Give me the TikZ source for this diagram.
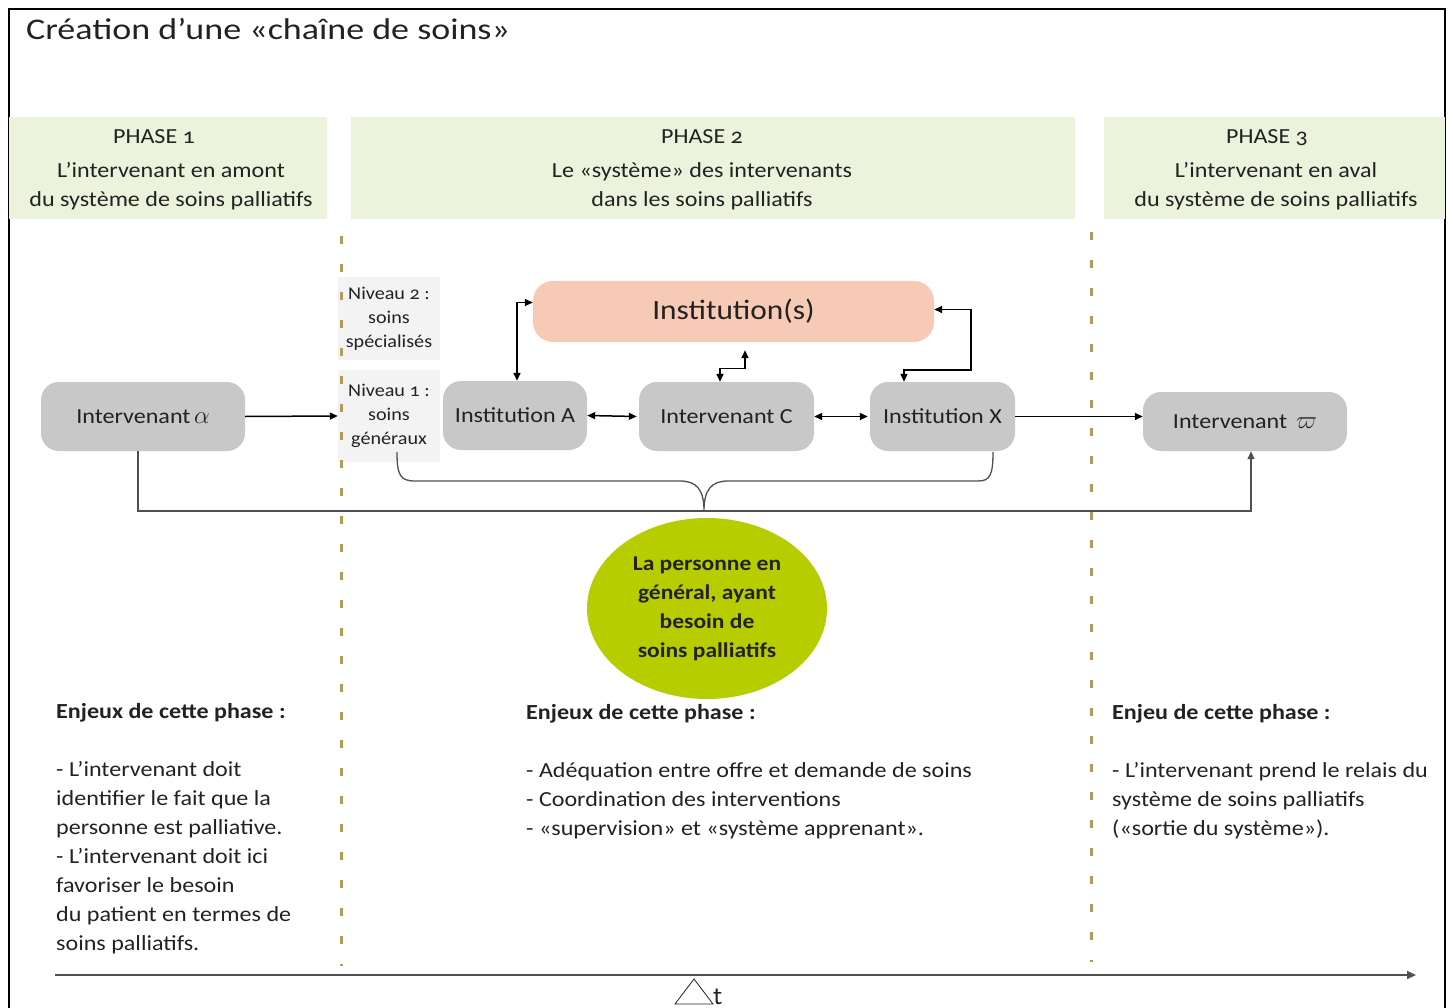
\documentclass[tikz,border=0pt]{standalone}
\usepackage{fontspec}
\setmainfont{Carlito}[Numbers=OldStyle, FakeStretch=1.12]
\newfontfamily\titlefont{Carlito}[Numbers=OldStyle, FakeStretch=1.2]
\usetikzlibrary{arrows.meta,calc,shapes.geometric}

\definecolor{phasebg}{HTML}{EBF3DC}
\definecolor{boxgrey}{HTML}{C8C8C8}
\definecolor{niveaubg}{HTML}{F3F3F3}
\definecolor{instpink}{HTML}{F7CAB6}
\definecolor{persgreen}{HTML}{B8CD00}
\definecolor{dashgold}{HTML}{B49B5C}
\definecolor{ink}{HTML}{222222}
\definecolor{wire}{HTML}{505050}

% greek letter of an actor, set a little larger than the text
\newcommand{\actorsym}[1]{{\fontsize{27}{29}\selectfont$#1$}}

\tikzset{
  txt/.style={text=ink, font=\fontsize{21.5}{29}\selectfont},
  phasebox/.style={fill=phasebg, inner sep=0pt},
  phasetext/.style={txt, align=center, inner sep=0pt},
  actor/.style={txt, fill=boxgrey, rounded corners=18pt, inner sep=0pt},
  niveau/.style={text=ink, fill=niveaubg, inner sep=0pt, align=center,
    font=\fontsize{18}{24}\selectfont},
  tip/.style={-{Triangle[length=8pt,width=7pt]}},
  twotips/.style={{Triangle[length=8pt,width=7pt]}-{Triangle[length=8pt,width=7pt]}},
  link/.style={line width=1.5pt, draw=black},
  feed/.style={line width=1.3pt, draw=wire},
  phaseline/.style={draw=dashgold, line width=3pt, dash pattern=on 8pt off 20pt},
  enjeu/.style={txt, anchor=base west, align=left, inner sep=0pt},
}

\begin{document}
\begin{tikzpicture}[x=1pt,y=-1pt]
\useasboundingbox (0,0) rectangle (1453,1008);

% outer frame
\draw[line width=2pt] (9,1012) -- (9,9) -- (1445,9) -- (1445,1012);

% title
\node[anchor=base west, text=ink, font=\titlefont\fontsize{30}{36}\selectfont, inner sep=0pt]
  (title) at (26,40) {Création d’une «chaîne de soins»};

% phase headers
\node[phasebox, minimum width=318pt, minimum height=102pt] (ph1) at (168,168) {};
\node[phasetext] (ph1t) at (171,169.5) {PHASE 1\hspace*{34pt}\\[5pt]L’intervenant en amont\\du système de soins palliatifs};
\node[phasebox, minimum width=724pt, minimum height=102pt] (ph2) at (713,168) {};
\node[phasetext] (ph2t) at (702,169.5) {PHASE 2\\[5pt]Le «système» des intervenants\\dans les soins palliatifs};
\node[phasebox, minimum width=341pt, minimum height=102pt] (ph3) at (1274.5,168) {};
\node[phasetext] (ph3t) at (1276,169.5) {PHASE 3\hspace*{18pt}\\[5pt]L’intervenant en aval\\du système de soins palliatifs};

% care levels
\node[niveau, minimum width=102pt, minimum height=83pt] (niv2) at (389,318.5)
  {Niveau 2 :\\soins\\spécialisés};
\node[niveau, minimum width=102pt, minimum height=92pt] (niv1) at (389,416)
  {Niveau 1 :\\soins\\généraux};

% phase separators
\coordinate (sepAtop) at (341,236);
\coordinate (sepAbot) at (341,966);
\coordinate (sepBtop) at (1091,232);
\coordinate (sepBbot) at (1091,962);
\draw[phaseline] (sepAtop) -- (sepAbot);
\draw[phaseline] (sepBtop) -- (sepBbot);

% actors and institutions
\node[actor, minimum width=204pt, minimum height=69pt] (alpha) at (143,416.5)
  {Intervenant\,\actorsym{\alpha}};
\node[actor, minimum width=144pt, minimum height=69pt] (instA) at (515,415.5) {Institution A};
\node[actor, minimum width=175pt, minimum height=69pt] (intC) at (726.5,416.5) {Intervenant C};
\node[actor, minimum width=145pt, minimum height=69pt] (instX) at (942.5,416.5) {Institution X};
\node[actor, minimum width=204pt, minimum height=59pt] (omega) at (1245,421.5)
  {Intervenant \,\actorsym{\varpi}};
\node[actor, fill=instpink, rounded corners=20pt, minimum width=401pt, minimum height=61pt,
      font=\fontsize{28}{32}\selectfont] (insts) at (733.5,311.5) {Institution(s)};

% person in need of palliative care
\node[ellipse, fill=persgreen, minimum width=240pt, minimum height=181pt, inner sep=0pt,
      text=ink, align=center, font=\bfseries\fontsize{21}{29}\selectfont]
  (pers) at (707,608.5) {La personne en\\général, ayant\\besoin de\\soins palliatifs};

% horizontal chain
\draw[link, tip] (alpha.east) -- (niv1.west);
\draw[link, twotips] (instA.east) -- ([xshift=-2pt]intC.west);
\draw[link, twotips] (intC.east) -- ([xshift=-2pt]instX.west);
\draw[link, tip] (instX.east) -- (instX.east -| omega.west);

% links with the institutions
\draw[link, twotips] ([yshift=9pt]insts.west) -| ([xshift=2pt]instA.north);
\draw[link, twotips] ([yshift=2pt]insts.east) -- ++(37,0) -- ++(0,60.5)
  -| ([xshift=-38.5pt]instX.north);
\draw[link, twotips] ([xshift=-6.5pt]intC.north) -- ++(0,-13.5)
  -| ([xshift=11.5pt,yshift=-8pt]insts.south);

% brace gathering the system of actors
\coordinate (brL) at (397,452);
\coordinate (brR) at (993,452);
\coordinate (brTip) at (704,511);
\draw[line width=1.3pt, draw=wire]
  (brL) .. controls (397,475) and (400,481) .. (415,481) -- (680,481)
  .. controls (697,481) and (704,490) .. (brTip)
  .. controls (704,490) and (711,481) .. (728,481) -- (978,481)
  .. controls (990,481) and (993,475) .. (brR);

% path of the person from the first to the last actor
\draw[feed, tip] ([xshift=-5pt]alpha.south) |- (brTip) -| ([xshift=6pt]omega.south);

% stakes of each phase (anchored at the baseline of the last line)
\node[enjeu] (enj1) at (56,950) {\textbf{Enjeux de cette phase :}\\[28.8pt]%
- L’intervenant doit\\identifier le fait que la\\personne est palliative.\\%
- L’intervenant doit ici\\favoriser le besoin\\du patient en termes de\\soins palliatifs.};
\node[enjeu] (enj2) at (526,835) {\textbf{Enjeux de cette phase :}\\[28.8pt]%
- Adéquation entre offre et demande de soins\\- Coordination des interventions\\%
- «supervision» et «système apprenant».};
\node[enjeu] (enj3) at (1112,835) {\textbf{Enjeu de cette phase :}\\[28.8pt]%
- L’intervenant prend le relais du\\système de soins palliatifs\\(«sortie du système»).};

% time axis
\coordinate (t0) at (55,975);
\coordinate (t1) at (1416,975);
\draw[line width=1.5pt, draw=wire, -{Triangle[length=9pt,width=8pt]}] (t0) -- (t1);
\draw[line width=0.8pt, draw=ink] (675,1004) -- (713,1004) -- (694,979) -- cycle;
\node[anchor=base west, inner sep=0pt, text=ink, font=\sffamily\fontsize{28}{30}\selectfont]
  (dt) at (713,1004) {t};
\end{tikzpicture}
\end{document}
